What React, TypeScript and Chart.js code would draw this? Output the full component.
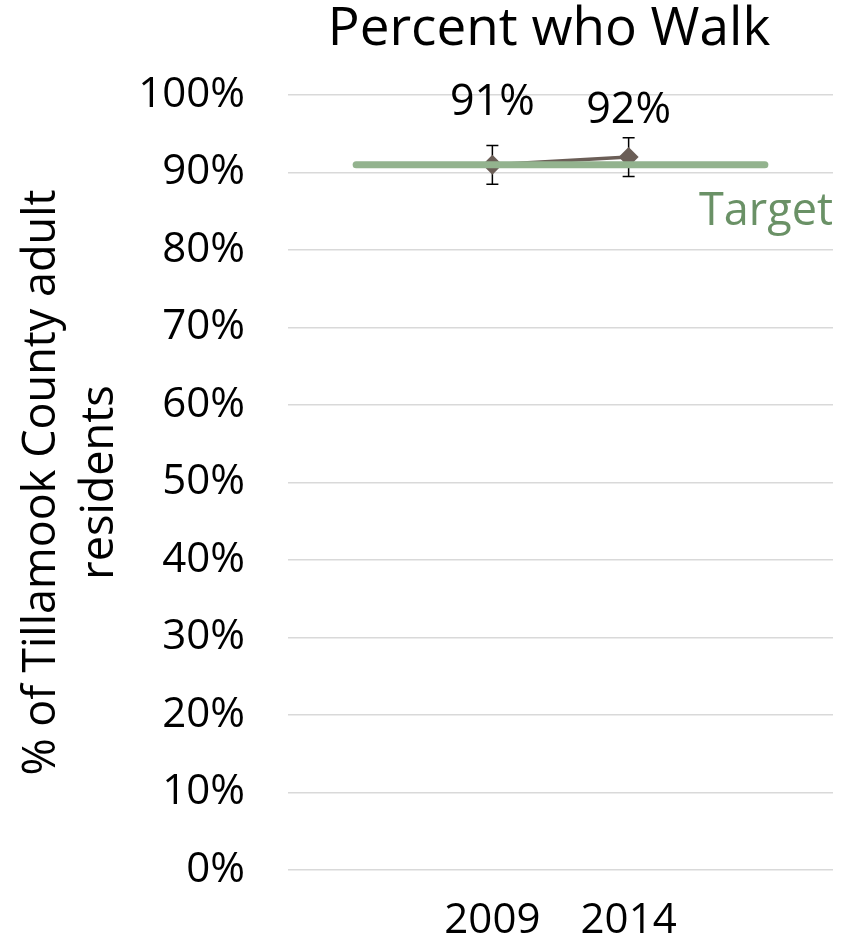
import React, { useEffect, useRef } from "react";
import { Chart, registerables } from "chart.js";

Chart.register(...registerables);

const chartTitle = "Percent who Walk";
const yAxisTitle = ["% of Tillamook County adult", "residents"];
const categories = ["", "2009", "2014", ""];
const walkValues: (number | null)[] = [null, 91, 92, null];
const errorMargins: (number | null)[] = [null, 2.5, 2.5, null];
const targetValues = [91, 91, 91, 91];
const targetLabel = "Target";
const yMin = 0;
const yMax = 100;
const yStep = 10;

const FONT = "'Open Sans', sans-serif";
const labelOffsets = [0, -62, -46, 0];

const textPlugin = {
  id: "customText",
  beforeDatasetsDraw(chart: any) {
    const ctx = chart.ctx;
    const meta = chart.getDatasetMeta(1);
    const y = chart.scales.y;
    ctx.save();
    ctx.strokeStyle = "#000000";
    ctx.lineWidth = 1.5;
    meta.data.forEach((pt: any, i: number) => {
      const v = walkValues[i];
      const e = errorMargins[i];
      if (v == null || e == null) return;
      const top = y.getPixelForValue(v + e);
      const bot = y.getPixelForValue(v - e);
      ctx.beginPath();
      ctx.moveTo(pt.x, top);
      ctx.lineTo(pt.x, bot);
      ctx.moveTo(pt.x - 6, top);
      ctx.lineTo(pt.x + 6, top);
      ctx.moveTo(pt.x - 6, bot);
      ctx.lineTo(pt.x + 6, bot);
      ctx.stroke();
    });
    ctx.restore();
  },
  afterDraw(chart: any) {
    const ctx = chart.ctx;
    const area = chart.chartArea;
    ctx.save();
    ctx.fillStyle = "#000000";
    ctx.textAlign = "center";
    ctx.textBaseline = "middle";
    ctx.font = `53px ${FONT}`;
    ctx.fillText(chartTitle, 549, 30);

    // data labels
    const meta = chart.getDatasetMeta(1);
    ctx.font = `43px ${FONT}`;
    meta.data.forEach((pt: any, i: number) => {
      const v = walkValues[i];
      if (v == null) return;
      ctx.fillText(`${v}%`, pt.x, pt.y + labelOffsets[i]);
    });

    // target label
    const ty = chart.scales.y.getPixelForValue(targetValues[targetValues.length - 1]);
    ctx.fillStyle = "#6a9166";
    ctx.textAlign = "right";
    ctx.font = `45px ${FONT}`;
    ctx.fillText(targetLabel, area.right, ty + 47);

    // y axis title
    ctx.fillStyle = "#000000";
    ctx.textAlign = "center";
    ctx.font = `45px ${FONT}`;
    const cy = (area.top + area.bottom) / 2;
    ctx.translate(0, cy);
    ctx.rotate(-Math.PI / 2);
    ctx.fillText(yAxisTitle[0], 0, 42);
    ctx.fillText(yAxisTitle[1], 0, 100);
    ctx.restore();
  },
};

export default function App() {
  const ref = useRef<HTMLCanvasElement>(null);
  useEffect(() => {
    if (!ref.current) return;
    const chart = new Chart(ref.current, {
      type: "line",
      data: {
        labels: categories,
        datasets: [
          {
            label: targetLabel,
            data: targetValues,
            borderColor: "#93b38e",
            borderWidth: 7,
            borderCapStyle: "round",
            pointRadius: 0,
            pointHoverRadius: 0,
          },
          {
            label: chartTitle,
            data: walkValues,
            borderColor: "#6b5e57",
            backgroundColor: "#6b5e57",
            borderWidth: 3.5,
            pointStyle: "rectRot",
            pointRadius: 10,
            pointBorderWidth: 0,
            pointBackgroundColor: "#6b5e57",
          },
        ],
      },
      options: {
        responsive: false,
        devicePixelRatio: 1,
        animation: false,
        layout: { padding: { top: 95, right: 18, left: 0, bottom: 0 } },
        plugins: {
          legend: { display: false },
          title: { display: false },
          tooltip: { enabled: false },
        },
        scales: {
          x: {
            offset: true,
            grid: { display: false },
            border: { display: false },
            ticks: {
              font: { family: FONT, size: 42 },
              color: "#000000",
              padding: 18,
              autoSkip: false,
              maxRotation: 0,
            },
            afterFit: (s: any) => {
              s.height = 75;
            },
          },
          y: {
            min: yMin,
            max: yMax,
            grid: { color: "#d9d9d9", lineWidth: 1.5, drawTicks: false },
            border: { display: false },
            ticks: {
              stepSize: yStep,
              font: { family: FONT, size: 42 },
              color: "#000000",
              padding: 43,
              callback: (v: any) => `${v}%`,
            },
            afterFit: (s: any) => {
              s.width = 288;
            },
          },
        },
      },
      plugins: [textPlugin],
    });
    return () => chart.destroy();
  }, []);
  return (
    <div style={{ position: "absolute", left: 0, top: 0, width: 851, height: 945, background: "#ffffff" }}>
      <canvas ref={ref} width={851} height={945} style={{ width: 851, height: 945 }} />
    </div>
  );
}
